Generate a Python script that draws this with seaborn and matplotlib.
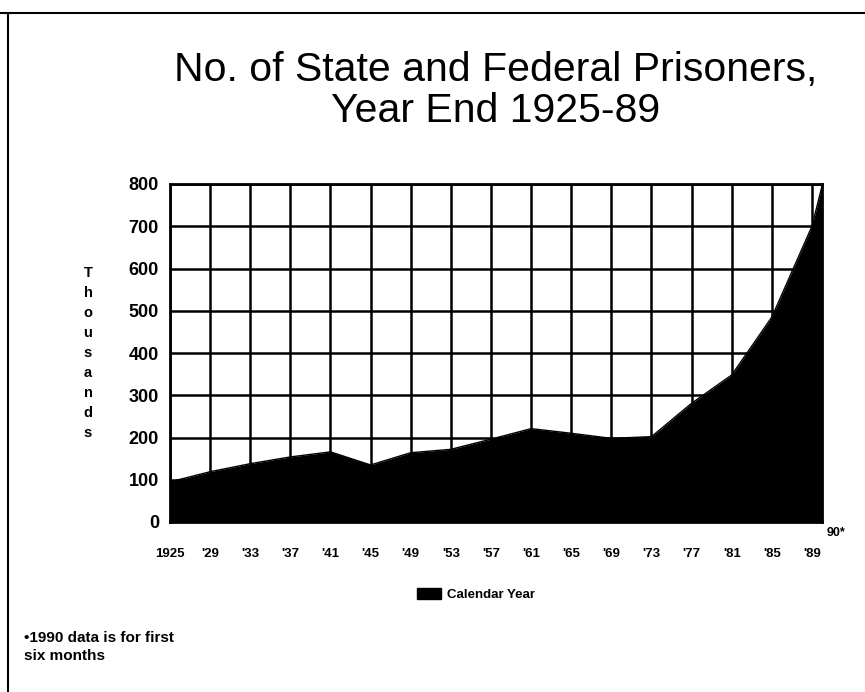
import matplotlib
matplotlib.use("Agg")
import matplotlib.pyplot as plt
import seaborn as sns
import pandas as pd
from matplotlib.patches import Rectangle
from matplotlib.lines import Line2D

# ---- data (thousands of prisoners) ----
years = [1925, 1929, 1933, 1937, 1941, 1945, 1949, 1953, 1957, 1961,
         1965, 1969, 1973, 1977, 1981, 1985, 1989, 1990]
prisoners = [95, 119, 138, 154, 166, 135, 164, 172, 196, 221,
             210, 198, 202, 281, 348, 485, 700, 795]
tick_years = list(range(1925, 1990, 4))
tick_labels = ["1925", "'29", "'33", "'37", "'41", "'45", "'49", "'53", "'57",
               "'61", "'65", "'69", "'73", "'77", "'81", "'85", "'89"]
y_ticks = [0, 100, 200, 300, 400, 500, 600, 700, 800]
title_lines = ["No. of State and Federal Prisoners,", "Year End 1925-89"]
ylabel = "Thousands"
legend_label = "Calendar Year"
footnote = "\u20221990 data is for first\nsix months"

df = pd.DataFrame({"year": years, "prisoners": prisoners})

sns.set_theme(style="white")
plt.rcParams["font.family"] = ["Liberation Sans", "DejaVu Sans"]
plt.rcParams["text.color"] = "black"
plt.rcParams["xtick.color"] = "black"
plt.rcParams["ytick.color"] = "black"

fig = plt.figure(figsize=(8.65, 6.92), dpi=100)
fig.patch.set_facecolor("white")
ax = fig.add_axes([170 / 865, 1 - 522 / 692, (822 - 170) / 865, (522 - 184) / 692])
ax.set_facecolor("white")

# grid
for x in tick_years:
    ax.axvline(x, color="black", lw=1.8, zorder=1)
for y in y_ticks:
    ax.axhline(y, color="black", lw=1.8, zorder=1)

sns.lineplot(data=df, x="year", y="prisoners", color="black", lw=1.0, ax=ax, zorder=3)
ax.fill_between(df["year"], df["prisoners"], 0, color="black", zorder=2, lw=0)

ax.set_xlim(1925, 1990)
ax.set_ylim(0, 800)
ax.set_xticks(tick_years)
ax.set_xticklabels(tick_labels, fontsize=9.5, fontweight="heavy", color="black")
ax.set_yticks(y_ticks)
ax.set_yticklabels([str(v) for v in y_ticks], fontsize=13, fontweight="bold", color="black")
ax.tick_params(axis="x", direction="out", length=5, width=1.5, color="black", pad=14)
ax.tick_params(axis="y", length=0, pad=8)
ax.set_xlabel("")
ax.set_ylabel("")
for s in ax.spines.values():
    s.set_color("black")
    s.set_linewidth(2.0)
    s.set_visible(True)

# stacked y label
fig.text(88 / 865, 1 - 353 / 692, "\n".join(list(ylabel)), ha="center", va="center",
         fontsize=10.5, fontweight="heavy", linespacing=1.55, color="black")

# 90* label
fig.text(836 / 865, 1 - 533 / 692, "90*", ha="center", va="center",
         fontsize=9, fontweight="heavy", color="black")

# title
fig.text(496 / 865, 1 - 70 / 692, title_lines[0], ha="center", va="center",
         fontsize=29.5, color="black")
fig.text(496 / 865, 1 - 111 / 692, title_lines[1], ha="center", va="center",
         fontsize=29.5, color="black")

# legend
fig.patches.append(Rectangle((417 / 865, 1 - 599 / 692), 24 / 865, 11 / 692,
                             transform=fig.transFigure, color="black"))
fig.text(447 / 865, 1 - 595 / 692, legend_label, ha="left", va="center",
         fontsize=9.5, fontweight="heavy", color="black")

# footnote
fig.text(24 / 865, 1 - 647 / 692, footnote, ha="left", va="center",
         fontsize=11, fontweight="heavy", linespacing=1.35, color="black")

# page frame lines
fig.lines.append(Line2D([0, 1], [1 - 13 / 692, 1 - 13 / 692], transform=fig.transFigure,
                        color="black", lw=1.5))
fig.lines.append(Line2D([8 / 865, 8 / 865], [0, 1 - 13 / 692], transform=fig.transFigure,
                        color="black", lw=1.5))

fig.savefig("out.png", dpi=100, facecolor="white")
